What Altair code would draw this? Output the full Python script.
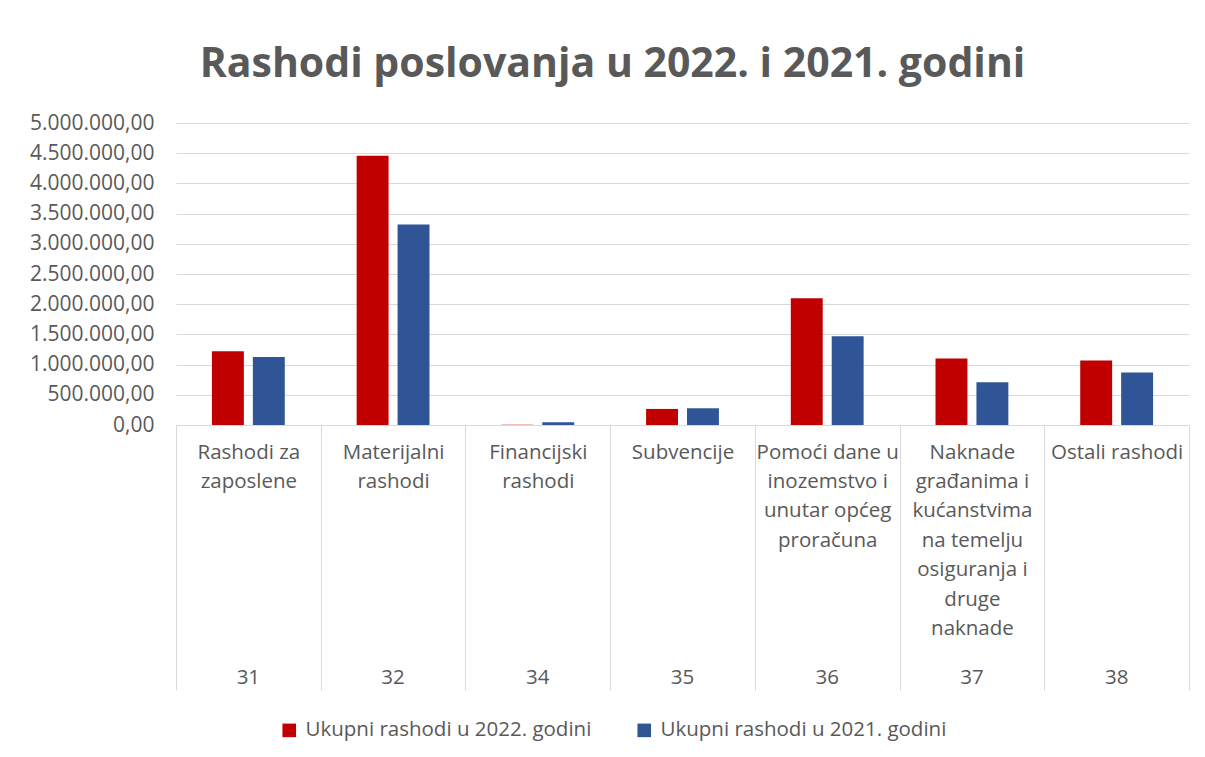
import altair as alt
import pandas as pd

codes = ["31", "32", "34", "35", "36", "37", "38"]
names = [
    "Rashodi za|zaposlene",
    "Materijalni|rashodi",
    "Financijski|rashodi",
    "Subvencije",
    "Pomoći dane u|inozemstvo i|unutar općeg|proračuna",
    "Naknade|građanima i|kućanstvima|na temelju|osiguranja i|druge|naknade",
    "Ostali rashodi",
]
v2022 = [1219000, 4457000, 6000, 266000, 2100000, 1102000, 1069000]
v2021 = [1125000, 3320000, 44000, 277000, 1468000, 709000, 870000]
series = ["Ukupni rashodi u 2022. godini", "Ukupni rashodi u 2021. godini"]
colors = ["#C00000", "#2F5597"]
yticks = [0, 500000, 1000000, 1500000, 2000000, 2500000, 3000000, 3500000, 4000000, 4500000, 5000000]

rows = []
for i, n in enumerate(names):
    rows.append({"name": n, "code": codes[i], "series": series[0], "value": v2022[i]})
    rows.append({"name": n, "code": codes[i], "series": series[1], "value": v2021[i]})
df = pd.DataFrame(rows)
codes_df = pd.DataFrame({"name": names, "code": codes})

FONT = "Open Sans"
GREY = "#595959"
LINE = "#d9d9d9"
FS = 20.5

ylabel = ("replace(replace(replace(format(datum.value, ',.2f'), regexp(',', 'g'), '#'), "
          "regexp('\\\\.', 'g'), ','), regexp('#', 'g'), '.')")

bars = alt.Chart(df).mark_bar().encode(
    x=alt.X("name:N", sort=names, title=None,
            scale=alt.Scale(paddingInner=0, paddingOuter=0),
            axis=alt.Axis(labelExpr="split(datum.label, '|')", labelAngle=0,
                          labelFont=FONT, labelFontSize=FS, labelColor=GREY,
                          labelLineHeight=29.4, labelPadding=-248, labelOverlap=False,
                          labelBaseline="top", labelLimit=200,
                          tickBand="extent", tickSize=265, tickColor=LINE, tickWidth=1,
                          domainColor=LINE, domainWidth=1, grid=False)),
    xOffset=alt.XOffset("series:N", sort=series,
                        scale=alt.Scale(paddingInner=0.22, paddingOuter=0.878)),
    y=alt.Y("value:Q", title=None,
            scale=alt.Scale(domain=[0, 5000000], nice=False),
            axis=alt.Axis(values=yticks, labelExpr=ylabel, labelFont=FONT,
                          labelFontSize=21, labelColor=GREY, labelPadding=22,
                          domain=False, ticks=False, gridColor=LINE, gridWidth=1)),
    color=alt.Color("series:N", sort=series,
                    scale=alt.Scale(domain=series, range=colors),
                    legend=alt.Legend(title=None, orient="none", legendX=103, legendY=597,
                                      direction="horizontal", symbolType="square",
                                      symbolSize=185, symbolStrokeWidth=0,
                                      labelFont=FONT, labelFontSize=FS, labelColor=GREY,
                                      labelOffset=6, columnPadding=42, labelLimit=400)),
)

code_text = alt.Chart(codes_df).mark_text(font=FONT, fontSize=FS, color=GREY,
                                          baseline="middle").encode(
    x=alt.X("name:N", sort=names),
    y=alt.value(555),
    text="code:N",
)

chart = alt.layer(bars, code_text).properties(
    width=1013,
    height=302,
    autosize=alt.AutoSizeParams(type="none"),
    padding={"left": 168, "top": 115, "right": 5, "bottom": 320},
    title=alt.TitleParams("Rashodi poslovanja u 2022. i 2021. godini", font=FONT,
                          fontSize=41, fontWeight="bold", color=GREY,
                          anchor="middle", frame="group", dx=-70, offset=26),
).configure_view(stroke=None)

chart.save("out.html", embed_options={"renderer": "svg", "actions": False})
